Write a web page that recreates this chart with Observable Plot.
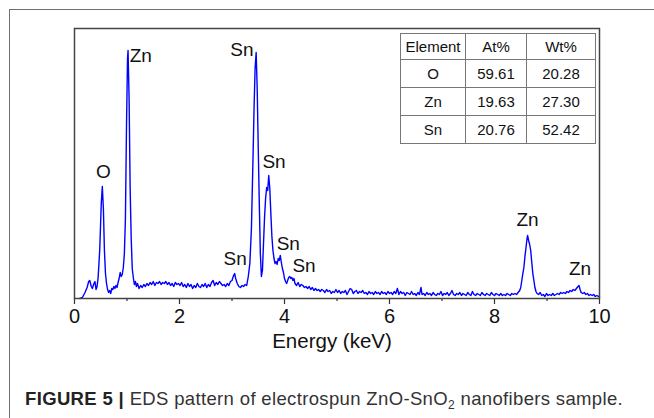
<!DOCTYPE html>
<html>
<head>
<meta charset="utf-8">
<script src="https://cdn.jsdelivr.net/npm/d3@7"></script>
<script src="https://cdn.jsdelivr.net/npm/@observablehq/plot@0.6"></script>
<style>
  html, body { margin: 0; padding: 0; background: #fff; }
  body { width: 654px; height: 418px; position: relative; overflow: hidden; font-family: "Liberation Sans", Arial, sans-serif; }
  #outer { position: absolute; left: 9px; top: 9px; width: 720px; height: 500px; border: 1.5px solid #707070; }
  #chart { position: absolute; left: 0; top: 0; }
  #tbl { position: absolute; left: 400px; top: 33px; border-collapse: collapse; font-size: 15px; color: #111; }
  #tbl td { border: 1px solid #777; text-align: center; padding: 0; height: 26px; }
  #caption { position: absolute; left: 25px; top: 388px; font-size: 18.5px; color: #333; white-space: nowrap; letter-spacing: 0.35px; }
  #caption b { color: #222; }
  #caption sub { font-size: 12px; vertical-align: -4px; }
</style>
</head>
<body>
<div id="outer"></div>
<div id="chart"></div>
<table id="tbl"></table>
<div id="caption"><b>FIGURE 5 |</b> EDS pattern of electrospun ZnO-SnO<sub>2</sub> nanofibers sample.</div>
<script>
// ---- Spectrum data (energy in keV, intensity in arbitrary counts) ----
const energy = [
0.10,0.15,0.20,0.24,0.27,0.29,0.32,0.34,0.37,0.39,0.41,0.43,0.45,0.48,0.51,0.53,0.55,0.57,0.59,0.61,
0.63,0.65,0.67,0.69,0.71,0.73,0.75,0.77,0.79,0.81,0.83,0.85,0.87,0.89,0.91,0.93,0.95,0.97,0.99,1.01,
1.02,1.04,1.06,1.08,1.10,1.12,1.14,1.16,1.18,1.20,1.23,1.26,1.29,1.32,1.35,1.38,1.41,1.44,1.47,1.50,
1.53,1.56,1.59,1.62,1.65,1.68,1.71,1.74,1.77,1.80,1.83,1.86,1.89,1.92,1.95,1.98,2.01,2.04,2.07,2.10,
2.13,2.16,2.19,2.22,2.25,2.28,2.31,2.34,2.37,2.40,2.43,2.46,2.49,2.52,2.55,2.58,2.61,2.64,2.67,2.70,
2.73,2.76,2.79,2.82,2.85,2.88,2.91,2.94,2.97,3.00,3.03,3.05,3.07,3.10,3.13,3.16,3.19,3.22,3.25,3.28,
3.31,3.34,3.37,3.40,3.42,3.44,3.46,3.48,3.50,3.52,3.54,3.56,3.58,3.60,3.62,3.64,3.66,3.68,3.70,3.72,
3.74,3.76,3.78,3.80,3.82,3.84,3.86,3.88,3.90,3.92,3.94,3.96,3.98,4.00,4.02,4.04,4.06,4.08,4.10,4.12,
4.14,4.16,4.18,4.20,4.23,4.26,4.29,4.32,4.35,4.38,4.41,4.44,4.47,4.50,4.53,4.56,4.59,4.62,4.65,4.68,
4.71,4.74,4.77,4.80,4.83,4.86,4.89,4.92,4.95,4.98,5.01,5.04,5.07,5.10,5.13,5.16,5.19,5.22,5.25,5.28,
5.31,5.34,5.37,5.40,5.43,5.46,5.49,5.52,5.55,5.58,5.61,5.64,5.67,5.70,5.73,5.76,5.79,5.82,5.85,5.88,
5.91,5.94,5.97,6.00,6.03,6.06,6.09,6.12,6.15,6.18,6.21,6.24,6.27,6.30,6.33,6.36,6.39,6.42,6.45,6.48,
6.51,6.54,6.57,6.60,6.62,6.65,6.68,6.71,6.74,6.77,6.80,6.83,6.86,6.89,6.92,6.95,6.98,7.01,7.04,7.07,
7.10,7.13,7.16,7.19,7.22,7.25,7.28,7.31,7.34,7.37,7.40,7.43,7.46,7.49,7.52,7.55,7.58,7.61,7.64,7.67,
7.70,7.73,7.76,7.79,7.82,7.85,7.88,7.91,7.94,7.97,8.00,8.03,8.06,8.09,8.12,8.15,8.18,8.21,8.24,8.27,
8.30,8.33,8.36,8.39,8.42,8.45,8.48,8.50,8.52,8.54,8.56,8.58,8.60,8.62,8.63,8.65,8.67,8.69,8.71,8.73,
8.75,8.77,8.79,8.81,8.84,8.87,8.90,8.93,8.96,8.99,9.02,9.05,9.08,9.11,9.14,9.17,9.20,9.23,9.26,9.29,
9.32,9.35,9.38,9.41,9.44,9.47,9.50,9.53,9.56,9.59,9.61,9.63,9.65,9.68,9.71,9.74,9.77,9.80,9.83,9.86,
9.89,9.92,9.95,9.98,10.00
];
const counts = [
0,1,6,11,17,18,12,10,15,17,9,12,21,48,95,112,90,48,25,15,
9,6,8,5,10,9,12,10,13,11,16,20,26,22,24,31,45,80,170,240,
248,200,110,60,30,21,14,17,12,15,10,13,11,14,12,15,13,16,14,17,
13,16,15,17,14,16,15,17,14,16,13,15,12,16,14,15,13,16,12,14,
11,15,12,14,10,13,11,15,12,11,14,12,15,11,14,12,16,18,13,16,
14,17,15,13,14,12,15,13,17,18,23,25,20,15,12,11,13,12,14,13,
22,35,70,140,190,230,246,210,150,95,45,22,28,55,81,100,111,108,123,110,
85,62,48,40,35,37,34,40,38,43,36,30,26,20,17,15,18,21,22,20,
21,18,20,15,13,16,12,14,13,11,12,10,12,9,11,8,10,8,9,7,
9,8,6,9,7,8,5,7,6,9,6,8,5,7,6,8,4,7,10,9,
5,7,8,5,7,6,8,5,6,4,7,5,6,4,7,5,6,4,7,5,
6,4,7,5,6,4,7,5,10,4,7,5,6,3,6,5,4,7,4,5,
3,6,4,11,4,5,3,6,4,5,3,6,4,3,5,4,7,3,5,4,
6,3,5,8,4,3,5,4,6,3,5,4,3,6,4,3,7,4,3,5,
4,3,6,4,3,5,4,3,6,4,3,5,4,3,5,3,4,3,5,4,
3,5,4,5,4,6,8,11,18,25,31,42,51,60,63,58,54,48,36,25,
18,11,7,5,4,6,3,4,2,5,3,4,3,5,3,4,5,4,6,5,
6,5,7,6,8,7,9,8,10,12,13,9,6,5,6,4,5,3,4,3,
4,2,3,2,2
];

// ---- Peak labels ----
const peakNames = ["O", "Zn", "Sn", "Sn", "Sn", "Sn", "Sn", "Zn", "Zn"];
const peakX =     [0.55, 1.05, 3.41, 3.58, 3.06, 3.85, 4.15, 8.63, 9.63];
const peakY =     [127, 243, 249, 137, 40, 55, 33, 79, 30];
const peakAnchor = ["middle", "start", "end", "start", "middle", "start", "start", "middle", "middle"];

// ---- Axis ticks ----
const majorTicks = [0, 2, 4, 6, 8, 10];
const minorTicks = [1, 3, 5, 7, 9];
const xLabel = "Energy (keV)";

// ---- Composition table ----
const tableHeader = ["Element", "At%", "Wt%"];
const elements = ["O", "Zn", "Sn"];
const atPct = ["59.61", "19.63", "20.76"];
const wtPct = ["20.28", "27.30", "52.42"];

const spectrum = energy.map((e, i) => ({e, c: counts[i]}));
const peaks = peakNames.map((n, i) => ({n, x: peakX[i], y: peakY[i], a: peakAnchor[i]}));

const font = "'Liberation Sans', Arial, sans-serif";

const chart = Plot.plot({
  width: 654,
  height: 370,
  marginLeft: 74,
  marginRight: 55,
  marginTop: 28,
  marginBottom: 72,
  style: {fontFamily: font, background: "transparent", color: "#111"},
  x: {domain: [0, 10]},
  y: {domain: [0, 270], axis: null},
  marks: [
    Plot.line(spectrum, {x: "e", y: "c", stroke: "#0000ff", strokeWidth: 1.4}),
    ...["start", "middle", "end"].map(anchor =>
      Plot.text(peaks.filter(d => d.a === anchor), {x: "x", y: "y", text: "n", textAnchor: anchor, fontSize: 19, fill: "#111"})
    ),
    Plot.axisX(majorTicks, {tickSize: 6, tickPadding: 4, fontSize: 20, stroke: "#333", strokeWidth: 1.2, label: null, tickFormat: d => String(d)}),
    Plot.axisX(minorTicks, {tickSize: 3, stroke: "#333", strokeWidth: 1.2, label: null, tickFormat: () => ""}),
    Plot.text([xLabel], {frameAnchor: "bottom", dy: 49, dx: -5, fontSize: 20.5, fill: "#111"}),
    Plot.frame({stroke: "#444", strokeWidth: 1.5})
  ]
});
document.getElementById("chart").appendChild(chart);

// Build table from arrays
const tbl = document.getElementById("tbl");
const colW = [64, 60, 68];
const rows = [tableHeader, ...elements.map((el, i) => [el, atPct[i], wtPct[i]])];
rows.forEach((r, ri) => {
  const tr = document.createElement("tr");
  r.forEach((v, ci) => {
    const td = document.createElement("td");
    td.textContent = v;
    td.style.width = colW[ci] + "px";
    td.style.height = (ri === 0 ? 25 : 27) + "px";
    tr.appendChild(td);
  });
  tbl.appendChild(tr);
});
</script>
</body>
</html>
